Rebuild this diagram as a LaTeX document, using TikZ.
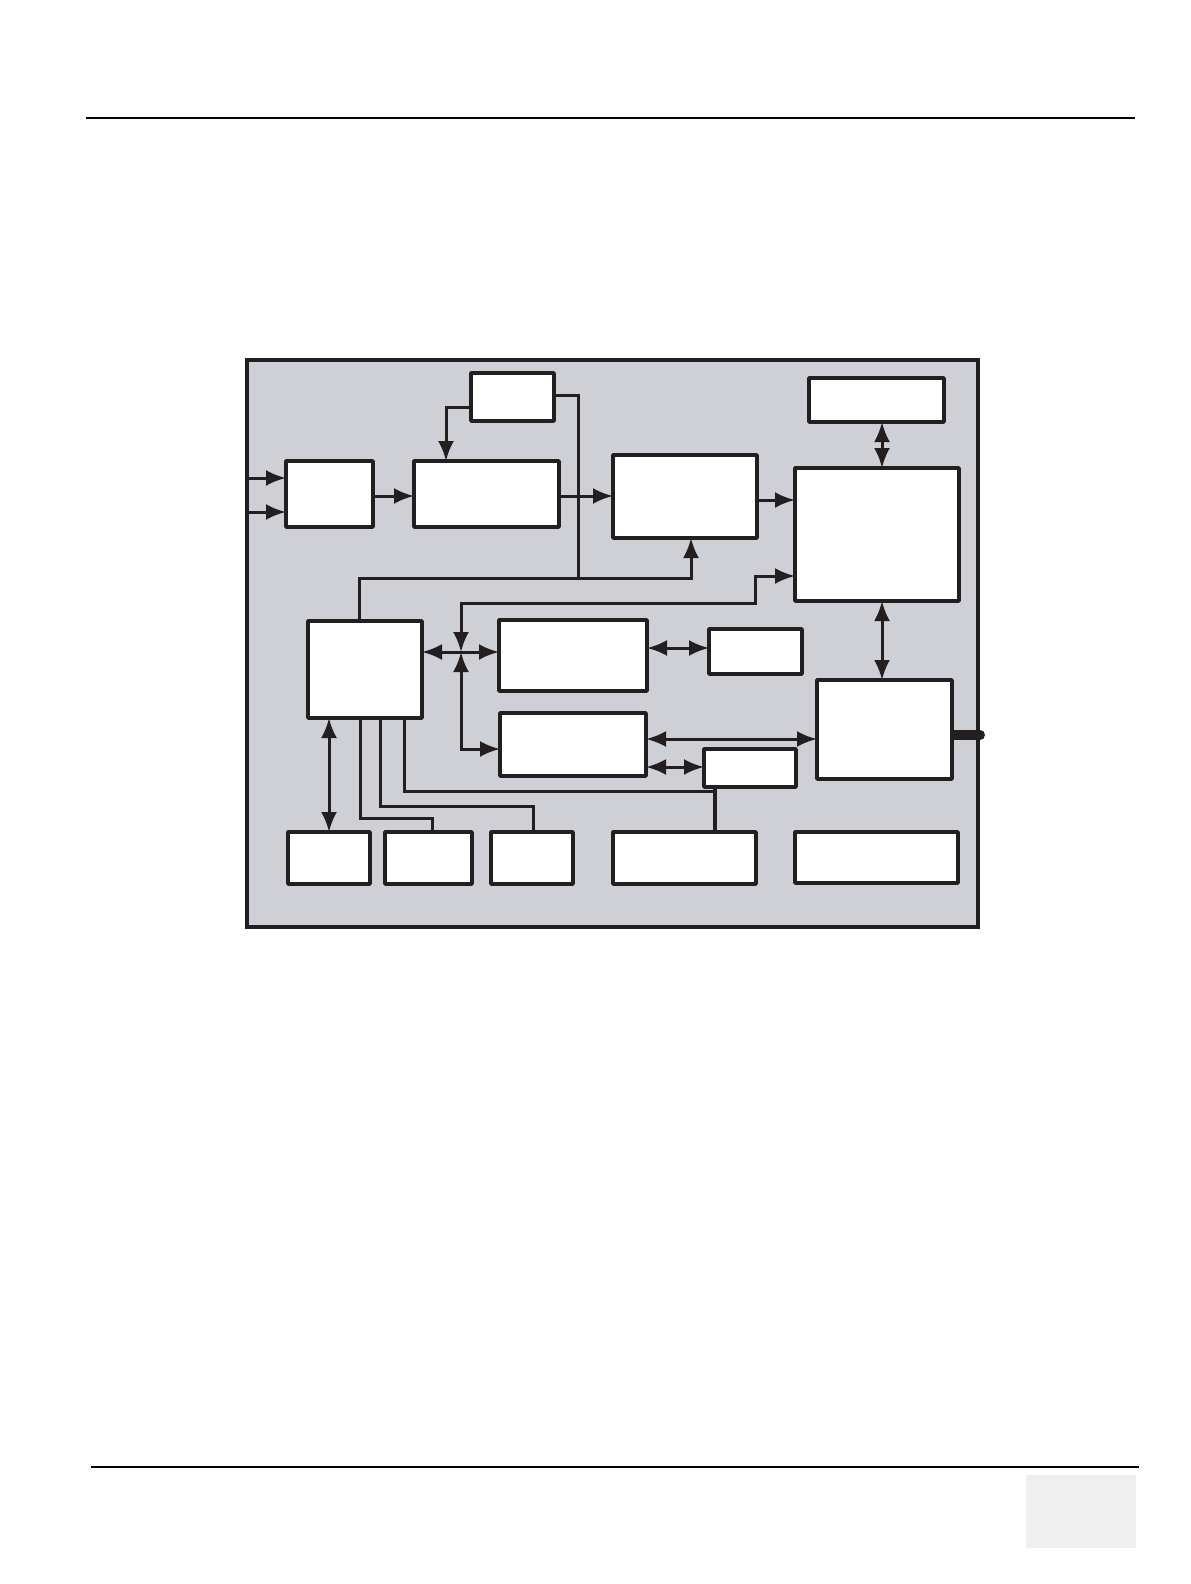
\documentclass[tikz,border=0pt]{standalone}
\usetikzlibrary{arrows.meta}
\definecolor{ink}{HTML}{231F20}
\definecolor{panel}{HTML}{CFD0D5}
\definecolor{pagegray}{HTML}{EFEFEF}
\tikzset{
  blk/.style={draw=ink, fill=white, line width=1.75pt, inner sep=0pt, outer sep=0pt, line join=round},
  frm/.style={draw=ink, fill=panel, line width=2.2pt},
  ln/.style={draw=ink, line width=1.5pt},
  lnthin/.style={draw=ink, line width=1.5pt},
  arr/.style={ln, -{Latex[length=10pt,width=8pt]}},
  darr/.style={ln, {Latex[length=10pt,width=8pt]}-{Latex[length=10pt,width=8pt]}},
  rule/.style={draw=black, line width=1pt}
}
\newcommand\bx[5]{%
  \pgfmathsetmacro\bxw{(#4-#2)*0.5}%
  \pgfmathsetmacro\bxh{(#5-#3)*0.5}%
  \node[blk, minimum width=\bxw pt, minimum height=\bxh pt] (#1) at ({(#2+#4)/2},{(#3+#5)/2}) {};}
\begin{document}
\begin{tikzpicture}[x=0.5pt,y=-0.5pt]
\useasboundingbox (0,0) rectangle (1190,1584);
% page furniture
\draw[rule] (86,118) -- (1135,118);
\draw[rule] (91,1467) -- (1139,1467);
\fill[pagegray] (1026,1475) rectangle (1136,1548);
% panel
\draw[frm] (247,360) rectangle (978,927);
% boxes
\bx{T}{471}{373}{554}{421}
\bx{B1}{286}{461}{373}{527}
\bx{B2}{414}{461}{559}{527}
\bx{B3}{613}{455}{757}{538}
\bx{TR}{809}{378}{944}{422}
\bx{R1}{795}{468}{959}{601}
\bx{M}{308}{621}{422}{718}
\bx{C1}{499}{620}{647}{691}
\bx{C2}{500}{713}{646}{776}
\bx{S1}{709}{629}{802}{674}
\bx{S2}{704}{749}{796}{787}
\bx{R2}{817}{680}{952}{779}
\bx{L1}{288}{832}{370}{884}
\bx{L2}{385}{832}{472}{884}
\bx{L3}{491}{832}{573}{884}
\bx{L4}{613}{832}{756}{884}
\bx{L5}{795}{832}{958}{883}
% inputs
\coordinate (in1) at (247,478);
\coordinate (in2) at (247,512);
\draw[arr] (in1) -- (in1 -| B1.west);
\draw[arr] (in2) -- (in2 -| B1.west);
% main chain
\draw[arr] (B1.east |- 0,496) -- (B2.west |- 0,496);
\draw[arr] (B2.east |- 0,496) -- (B3.west |- 0,496);
\draw[arr] (B3.east |- 0,500) -- (R1.west |- 0,500);
% top small box
\draw[arr] (T.west |- 0,407) -| (B2.north -| 446,0);
\draw[ln] (T.east |- 0,395) -| (578,578);
% bus from M to B3
\draw[arr] (M.north -| 359,0) |- (691,578) -- (B3.south -| 691,0);
% junction
\coordinate (J) at (461,652);
\draw[darr] (J) -- (461,603) -| (755,576) -- (R1.west |- 0,576);
\draw[darr] (M.east |- J) -- (C1.west |- J);
\draw[darr] (J) |- (C2.west |- 0,749);
% right column
\draw[darr] (TR.south -| 882,0) -- (R1.north -| 882,0);
\draw[darr] (R1.south -| 882,0) -- (R2.north -| 882,0);
\draw[darr] (C1.east |- 0,648) -- (S1.west |- 0,648);
\draw[darr] (C2.east |- 0,739) -- (R2.west |- 0,739);
\draw[darr] (C2.east |- 0,767) -- (S2.west |- 0,767);
% M to bottom row
\draw[darr] (M.south -| 329,0) -- (L1.north -| 329,0);
\draw[lnthin] (M.south -| 360,0) |- (432,818) -- (L2.north -| 432,0);
\draw[lnthin] (M.south -| 380,0) |- (533,806) -- (L3.north -| 533,0);
\draw[lnthin] (M.south -| 404,0) |- (715,791);
\draw[draw=ink, line width=2pt] (S2.south -| 715,0) -- (L4.north -| 715,0);
% connector stub
\coordinate (stub) at (980,735);
\draw[draw=ink, line width=5pt] (R2.east |- stub) -- (stub);
\fill[ink] (stub) circle (5);
\end{tikzpicture}
\end{document}
